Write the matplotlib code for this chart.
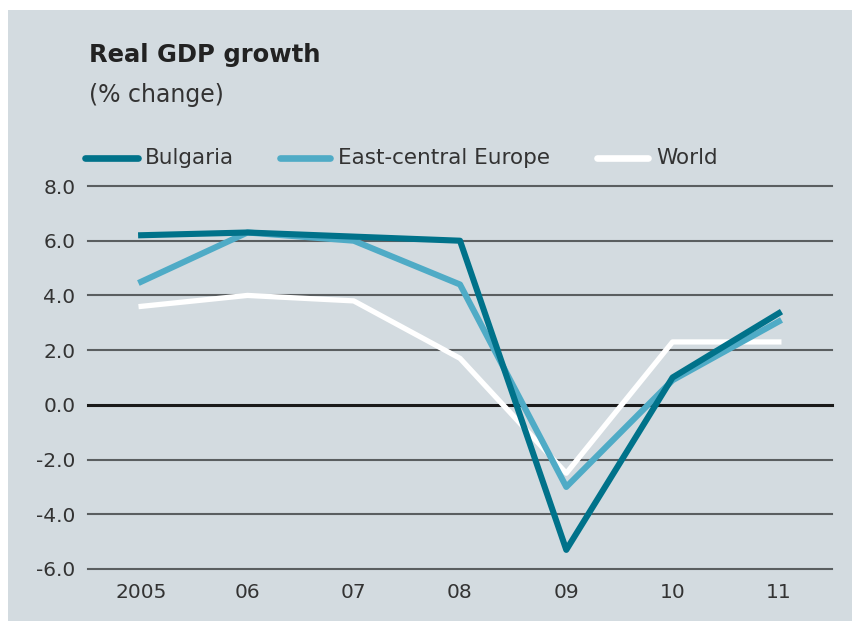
import matplotlib.pyplot as plt
from matplotlib.patches import Rectangle
from matplotlib.lines import Line2D

# Data
years = ['2005', '06', '07', '08', '09', '10', '11']
bulgaria = [6.2, 6.3, 6.15, 6.0, -5.3, 1.0, 3.35]
east_central = [4.5, 6.3, 6.0, 4.4, -3.0, 0.9, 3.05]
world = [3.6, 4.0, 3.8, 1.7, -2.5, 2.3, 2.3]
yticks = [-6, -4, -2, 0, 2, 4, 6, 8]
series_names = ['Bulgaria', 'East-central Europe', 'World']

bg = '#d3dbe0'
c_bul = '#00728a'
c_ece = '#4fabc6'
txt = '#333333'

plt.rcParams['font.family'] = ['DejaVu Sans']

W, H = 853, 621
fig = plt.figure(figsize=(W / 100, H / 100), dpi=100)
fig.patch.set_facecolor('white')
# grey panel (small white border at top and left)
fig.patches.append(Rectangle((8 / W, 0), 1, 1 - 10 / H, transform=fig.transFigure,
                             facecolor=bg, edgecolor='none', zorder=-10))

ax = fig.add_axes([88 / W, (H - 569) / H, (832 - 88) / W, (569 - 186) / H])
ax.patch.set_alpha(0)

x = range(len(years))
for v in yticks:
    if v == 0:
        ax.axhline(v, color='#1a1a1a', lw=2.2, zorder=1, clip_on=False)
    else:
        ax.axhline(v, color='#5a5e60', lw=1.5, zorder=1, clip_on=False)

ax.plot(x, world, color='white', lw=3.8, zorder=3)
ax.plot(x, east_central, color=c_ece, lw=4.4, zorder=4)
ax.plot(x, bulgaria, color=c_bul, lw=4.4, zorder=5)

ax.set_xlim(-0.5, 6.5)
ax.set_ylim(-6, 8)
ax.set_xticks(list(x))
ax.set_xticklabels(years)
ax.set_yticks(yticks)
ax.set_yticklabels([f'{v:.1f}' for v in yticks])
ax.tick_params(length=0, labelsize=14.5, colors=txt)
ax.tick_params(axis='y', pad=9)
ax.tick_params(axis='x', pad=10)
for s in ax.spines.values():
    s.set_visible(False)

fig.text(89 / W, 1 - 55 / H, 'Real GDP growth', fontsize=17.5, fontweight='bold',
         color='#222222', va='center')
fig.text(89 / W, 1 - 95 / H, '(% change)', fontsize=17, color=txt, va='center')

# legend drawn by hand, in pixel positions of the reference
leg_y = 1 - 158 / H
leg = [(85, 138, 145, c_bul), (280, 330, 338, c_ece), (597, 648, 656, 'white')]
for (x0, x1, xt, c), name in zip(leg, series_names):
    fig.add_artist(Line2D([x0 / W, x1 / W], [leg_y, leg_y], color=c, lw=4.8,
                          solid_capstyle='round', transform=fig.transFigure))
    fig.text(xt / W, leg_y, name, fontsize=15.5, color=txt, va='center')

fig.savefig('out.png', dpi=100, facecolor='white')
